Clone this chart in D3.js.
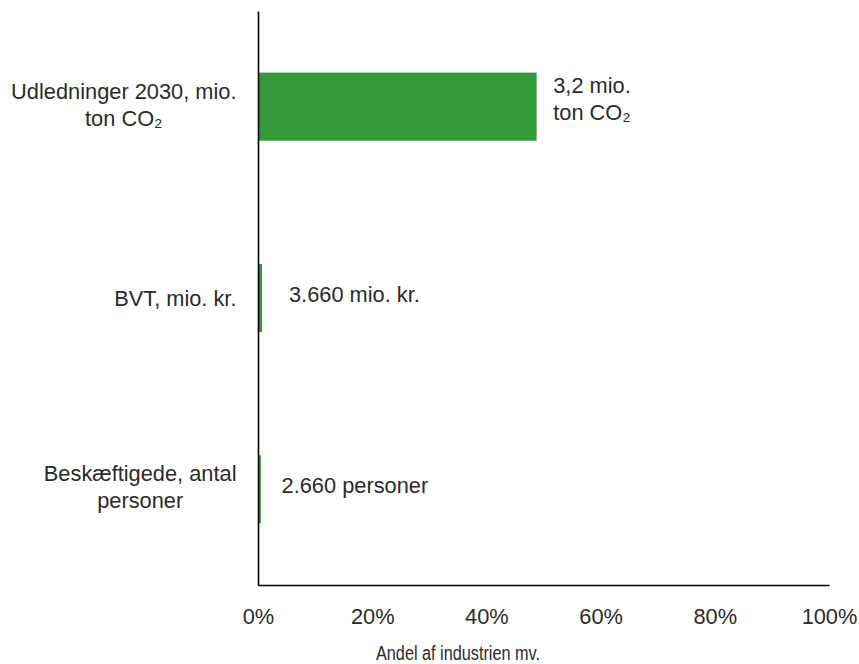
<!DOCTYPE html>
<html>
<head>
<meta charset="utf-8">
<script src="https://cdn.jsdelivr.net/npm/d3@7"></script>
<style>
  html, body { margin: 0; padding: 0; background: #fff; }
  svg text { font-family: "Liberation Sans", Arial, Helvetica, sans-serif; fill: #2b2b2b; }
</style>
</head>
<body>
<svg id="chart" width="859" height="664"></svg>
<script>
// ---- data ----
const categories = [
  ["Udledninger 2030, mio.", "ton CO₂"],
  ["BVT, mio. kr."],
  ["Beskæftigede, antal", "personer"]
];
const shares = [0.488, 0.007, 0.005];           // share of industri mv.
const valueLabels = [
  ["3,2 mio.", "ton CO₂"],
  ["3.660 mio. kr."],
  ["2.660 personer"]
];
const xTicks = [0, 0.2, 0.4, 0.6, 0.8, 1.0];
const xTitle = "Andel af industrien mv.";

// ---- layout ----
const margin = { top: 11, left: 258, right: 30, bottom: 79 };
const W = 859, H = 664;
const iw = W - margin.left - margin.right;
const ih = H - margin.top - margin.bottom;
const fs = 21.8;
const lineH = 27;
const labelDx = [16.6, 27, 20.7];
const labelDy = [-13.7, 3.7, 3.2];

const svg = d3.select("#chart");
const g = svg.append("g").attr("transform", `translate(${margin.left},${margin.top})`);

const x = d3.scaleLinear().domain([0, 1]).range([0, iw]);
const y = d3.scaleBand().domain(d3.range(categories.length)).range([0, ih])
  .paddingInner(0.644).paddingOuter(0.322);

// bars
g.selectAll("rect.bar").data(shares).join("rect")
  .attr("class", "bar")
  .attr("x", 0)
  .attr("y", (d, i) => y(i))
  .attr("width", d => x(d))
  .attr("height", y.bandwidth())
  .attr("fill", "#359a3a");

// x axis
const xAxis = d3.axisBottom(x).tickValues(xTicks).tickFormat(d3.format(".0%")).tickSize(0).tickPadding(24);
const xa = g.append("g").attr("transform", `translate(0,${ih})`).call(xAxis);
xa.select(".domain").attr("stroke", "#000").attr("stroke-width", 1.6);
xa.selectAll("text").style("font-size", fs + "px").attr("fill", "#2b2b2b")
  .style("font-family", "Liberation Sans, Arial, sans-serif");

// y axis line
const ya = g.append("g").call(d3.axisLeft(y).tickSize(0).tickFormat(""));
ya.select(".domain").attr("stroke", "#000").attr("stroke-width", 1.6);

// category labels (block right-aligned, lines centered)
const catG = svg.append("g");
categories.forEach((lines, i) => {
  const cy = margin.top + y(i) + y.bandwidth() / 2;
  const n = lines.length;
  const t = catG.append("text").style("font-size", fs + "px").attr("text-anchor", "middle");
  const spans = lines.map(l => t.append("tspan").text(l));
  const maxW = d3.max(spans, s => s.node().getComputedTextLength());
  const cx = 236.5 - maxW / 2;
  spans.forEach((s, j) => {
    s.attr("x", cx).attr("y", cy + (j - (n - 1) / 2) * lineH + fs * 0.36 - (n - 1) * 2.5);
  });
});

// value labels
const valG = g.append("g");
valueLabels.forEach((lines, i) => {
  const bx = x(shares[i]) + labelDx[i];
  const by = y(i) + y.bandwidth() / 2 + labelDy[i];
  const t = valG.append("text").style("font-size", fs + "px");
  lines.forEach((l, j) => {
    t.append("tspan").attr("x", bx).attr("y", by + j * lineH).text(l);
  });
});

// axis title
svg.append("text")
  .attr("x", 376).attr("y", 660)
  .attr("textLength", 164)
  .attr("lengthAdjust", "spacingAndGlyphs")
  .style("font-size", "20px")
  .text(xTitle);
</script>
</body>
</html>
